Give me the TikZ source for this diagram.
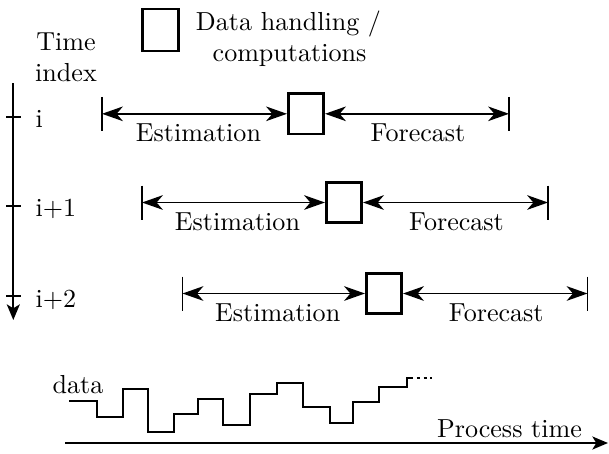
\documentclass[tikz,border=0pt]{standalone}
\usetikzlibrary{arrows.meta,calc}
\begin{document}
\begin{tikzpicture}[x=0.3837pt,y=-0.3837pt,
  procbox/.style={draw,line width=1pt,minimum width=13.6pt,minimum height=15.4pt,inner sep=0pt},
  span/.style={line width=0.75pt,{Stealth[length=8pt,width=5.6pt,inset=2.4pt]}-{Stealth[length=8pt,width=5.6pt,inset=2.4pt]}},
  endbar/.style={line width=0.45pt},
  axis/.style={line width=0.65pt,-{Stealth[length=6pt,width=5pt,inset=1.5pt]}},
  tick/.style={line width=0.65pt},
  lbl/.style={anchor=base,inner sep=0pt},
  steps/.style={line width=0.55pt},
]
\useasboundingbox (0,0) rectangle (609,453);

% legend
\node[procbox,minimum width=14pt,minimum height=16pt] (legbox) at (160.5,30) {};
\node[lbl] (legt1) at (288.5,30.5) {Data handling /};
\node[lbl] (legt2) at (289.5,61.5) {computations};

% time axis
\node[lbl] (tm1) at (66,50) {Time};
\node[lbl] (tm2) at (66,81) {index};
\coordinate (ttop) at (13.3,83);
\coordinate (tbot) at (13.3,320);
\draw[axis] (ttop) -- (tbot);
\foreach \n/\ty/\by/\txt in {1/117.3/127/{i},2/206/216/{i+1},3/296/307/{i+2}}{
  \coordinate (tka\n) at (6,\ty);
  \coordinate (tkb\n) at (21,\ty);
  \draw[tick] (tka\n) -- (tkb\n);
  \node[lbl,anchor=base west] (idx\n) at (35,\by) {\txt};
}

% rows
\foreach \n/\L/\y/\bx/\R in {1/102/113.8/306/509,2/142/202.5/344/548,3/182.5/293.5/384/587.5}{
  \node[procbox] (box\n) at (\bx,\y) {};
  \coordinate (L\n) at (\L,\y);
  \coordinate (R\n) at (\R,\y);
  \draw[endbar] ($(L\n)+(0,-17)$) -- ($(L\n)+(0,17)$);
  \draw[endbar] ($(R\n)+(0,-17)$) -- ($(R\n)+(0,17)$);
  \draw[span] (L\n) -- (box\n.west);
  \draw[span] (box\n.east) -- (R\n);
  \node[lbl] (est\n) at ($(L\n)!0.5!(box\n.west)+(4,28)$) {Estimation};
  \node[lbl] (fc\n) at ($(box\n.east)!0.5!(R\n)+(1,28)$) {Forecast};
}

% data
\node[lbl] (data) at (78,393) {data};
\draw[steps] (69,401) -- (97,401) -- (97,417) -- (123,417) -- (123,389) -- (148,389)
  -- (148,432) -- (174,432) -- (174,414) -- (198,414) -- (198,399) -- (223,399)
  -- (223,425) -- (250,425) -- (250,394) -- (277,394) -- (277,383) -- (303,383)
  -- (303,407) -- (330,407) -- (330,423) -- (353,423) -- (353,402) -- (379,402)
  -- (379,387) -- (407,387) -- (407,378) -- (410,378) coordinate (dend);
\coordinate (dfar) at (432,378);
\draw[steps,dash pattern=on 1.3pt off 1.3pt] (dend) -- (dfar);

% process time
\coordinate (pstart) at (65,443);
\coordinate (pend) at (608,443);
\draw[axis] (pstart) -- (pend);
\node[lbl] (ptime) at (509.5,437) {Process time};
\end{tikzpicture}
\end{document}
